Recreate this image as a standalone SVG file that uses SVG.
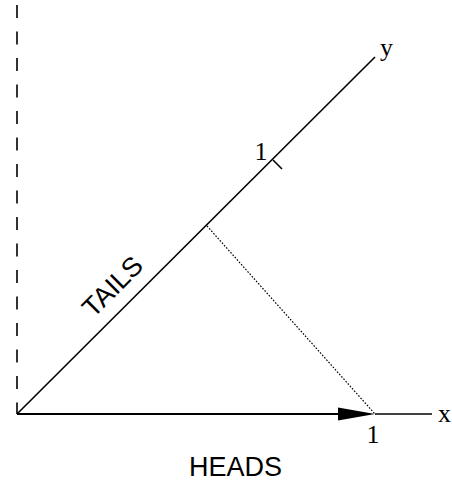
<svg xmlns="http://www.w3.org/2000/svg" width="452" height="481" viewBox="0 0 452 481">
<style>
.serif{font-family:"Liberation Serif","Times New Roman",serif;font-size:26px;fill:#000}
.sans{font-family:"Liberation Sans",Arial,sans-serif;font-size:27px;fill:#000}
.ln{stroke:#000;fill:none}
</style>
<rect width="452" height="481" fill="#fff"/>
<g id="connectors">
<line class="ln" x1="17" y1="5" x2="17" y2="414" stroke-width="1.6" stroke-dasharray="13 13.5"/>
<line class="ln" x1="17" y1="414" x2="340" y2="414" stroke-width="2.2"/>
<polygon points="338,407.5 375,414 338,420.5" fill="#000"/>
<line class="ln" x1="375" y1="414" x2="432" y2="414" stroke-width="1.4"/>
<line class="ln" x1="17" y1="414" x2="375" y2="57" stroke-width="1.6"/>
<line class="ln" x1="273" y1="160" x2="282" y2="169" stroke-width="1.6"/>
<line class="ln" x1="207" y1="226" x2="375" y2="414" stroke-width="1.2" stroke-dasharray="1.6 1.6"/>
</g>
<g id="labels">
<text class="serif" x="380" y="56">y</text>
<text class="serif" x="261" y="160" text-anchor="middle">1</text>
<text class="serif" x="438" y="422">x</text>
<text class="serif" x="373" y="443" text-anchor="middle">1</text>
<text class="sans" x="235.5" y="476" text-anchor="middle">HEADS</text>
<text class="sans" text-anchor="middle" transform="translate(119,293) rotate(-45)">TAILS</text>
</g>
</svg>
